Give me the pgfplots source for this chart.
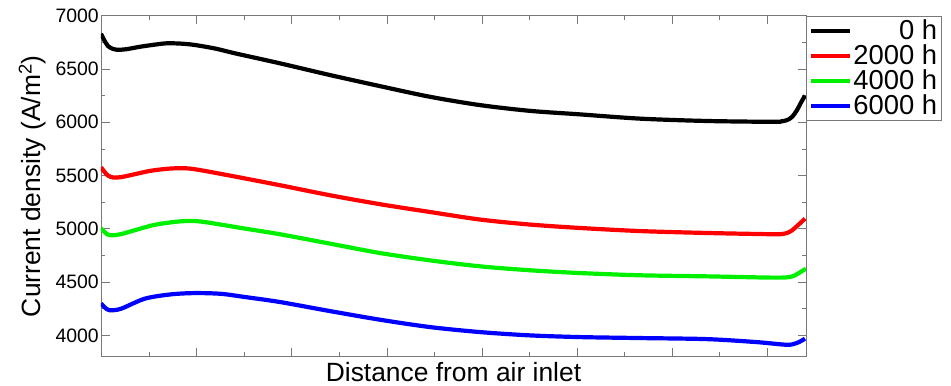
\documentclass[border=0pt]{standalone}
\usepackage{fontspec}
\setmainfont{Liberation Sans}
\usepackage{pgfplots}
\pgfplotsset{compat=1.18}
\definecolor{axgray}{RGB}{120,120,120}
\definecolor{cgreen}{RGB}{0,240,0}
\begin{document}
\begin{tikzpicture}
\begin{axis}[
  scale only axis,
  width=705bp, height=341bp,
  xmin=0, xmax=705, ymin=3800, ymax=7000,
  xtick={0.6,95.7,...,700}, minor x tick num=1,
  xticklabels={},
  ytick={4000,4500,...,7000}, minor y tick num=1,
  tick align=inside,
  major tick length=8.5bp, minor tick length=4.3bp,
  every tick/.style={axgray, line width=0.8bp},
  axis line style={axgray, line width=0.9bp},
  /pgf/number format/assume math mode=true,
  /pgf/number format/1000 sep={},
  tick label style={font=\fontsize{19.5}{20}\selectfont},
  yticklabel style={inner sep=2bp},
  label style={font=\fontsize{26.5}{28}\selectfont},
  xlabel={Distance from air inlet},
  xlabel style={at={(axis description cs:0.5,-0.0713)}, anchor=base},
  ylabel={Current density (A/m\textsuperscript{2})},
  ylabel style={at={(axis description cs:-0.0972,0.5)}, anchor=center},
  legend style={at={(axis description cs:1,1)}, anchor=north west,
    draw=axgray, line width=0.9bp, inner xsep=3bp, inner ysep=4bp, row sep=4bp,
    font=\fontsize{27.5}{27}\selectfont,
    nodes={inner sep=1bp, text height=18bp, text depth=1bp}},
  legend cell align=right,
  legend image code/.code={\draw[#1, line width=4bp] (0bp,0bp) -- (39bp,0bp);},
  every axis plot/.append style={line width=4.2bp, smooth},
]
\addplot[black] coordinates {
(0,6830) (3,6775) (7,6715) (12,6688) (16,6680) (25,6685) (40,6710) (55,6730) (66,6741) (80,6738) (94,6725) (115,6690) (134,6647) (179,6553) (229,6443) (279,6339) (329,6239) (379,6161) (429,6107) (479,6074) (539,6034) (605.7,6012) (672,6004) (680,6008) (686,6020) (691,6050) (696,6114) (700,6185) (704,6250)
};
\addplot[red] coordinates {
(0,5578) (3,5540) (7,5500) (12,5482) (20,5485) (35,5515) (50,5545) (70,5566) (90,5564) (127,5503) (179,5409) (229,5315) (279,5231) (329,5158) (379,5087) (429,5040) (479,5008) (539,4979) (605.7,4961) (672,4949) (680,4950) (686,4961) (691,4985) (695.7,5024) (700,5060) (704,5096)
};
\addplot[cgreen] coordinates {
(0,5005) (3,4975) (6,4950) (10.7,4939) (20,4950) (35,4990) (55,5040) (80.7,5071) (100,5068) (144,5002) (179,4949) (229,4861) (279,4773) (329,4704) (379,4648) (429,4611) (479,4585) (539,4564) (605.7,4554) (672,4542) (689,4548) (695.7,4573) (702.3,4611) (705,4625)
};
\addplot[blue] coordinates {
(0,4300) (3,4270) (6,4245) (9,4235) (20,4250) (44,4345) (70,4385) (94,4397) (120,4390) (144,4360) (179,4313) (229,4228) (279,4147) (329,4078) (379,4031) (429,4000) (479,3984) (539,3975) (605.7,3965) (655.7,3937) (685.7,3912) (695.7,3928) (704,3969)
};
\legend{0 h,2000 h,4000 h,6000 h}
\end{axis}
\pgfresetboundingbox
\path[use as bounding box] (current axis.south west) ++(-101bp,-29.3bp) rectangle ++(951bp,386bp);
\end{tikzpicture}
\end{document}
